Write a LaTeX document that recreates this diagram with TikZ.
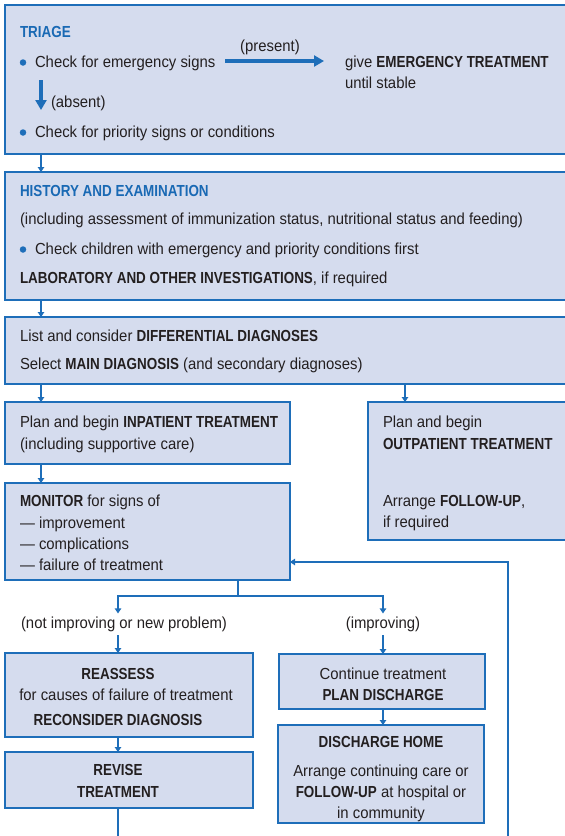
\documentclass[tikz,border=0pt]{standalone}
\usepackage{fontspec}
\setmainfont{Liberation Sans}[FakeStretch=0.93,BoldFeatures={FakeStretch=0.84}]
\usetikzlibrary{arrows.meta}
\definecolor{boxfill}{RGB}{213,220,238}
\definecolor{boxline}{RGB}{30,110,185}
\definecolor{titleblue}{RGB}{25,105,180}
\definecolor{ink}{RGB}{35,31,32}
\tikzset{
 box/.style={draw=boxline, fill=boxfill, line width=1.6pt, anchor=north west, inner sep=0pt, outer sep=0pt},
 txt/.style={anchor=base west, inner sep=0pt, outer sep=0pt, text=ink, font=\fontsize{16}{18}\selectfont},
 ctxt/.style={txt, anchor=base},
 ttl/.style={txt, text=titleblue, font=\fontsize{16}{18}\selectfont\bfseries},
 conn/.style={draw=boxline, line width=1.2pt, -{Triangle[length=5pt,width=6.5pt]}},
 plainline/.style={draw=boxline, line width=1.2pt},
 bigarrow/.style={draw=boxline, line width=3.5pt, -{Triangle[length=10pt,width=11pt]}},
 dot/.style={circle, fill=boxline, inner sep=0pt, minimum size=6.5pt},
}
\begin{document}
\begin{tikzpicture}[x=1pt,y=-1pt]
\useasboundingbox (0,0) rectangle (565,836);
\clip (0,0) rectangle (565,836);
% x positions
\coordinate (xa) at (41,0);
\coordinate (xb) at (405,0);
\coordinate (xl) at (118,0);
\coordinate (xr) at (383,0);
\coordinate (xm) at (238,0);
\coordinate (fy) at (0,562);
% boxes
\node[box, minimum width=600pt, minimum height=149pt] (triage) at (5,5) {};
\node[box, minimum width=600pt, minimum height=128pt] (history) at (5,172) {};
\node[box, minimum width=600pt, minimum height=67pt] (diff) at (5,317) {};
\node[box, minimum width=285pt, minimum height=62pt] (inpat) at (5,402) {};
\node[box, minimum width=240pt, minimum height=138pt] (outpat) at (368,402) {};
\node[box, minimum width=285pt, minimum height=97pt] (monitor) at (5,483) {};
\node[box, minimum width=248pt, minimum height=84pt] (reassess) at (5,653) {};
\node[box, minimum width=248pt, minimum height=56pt] (revise) at (5,752) {};
\node[box, minimum width=206pt, minimum height=55pt] (cont) at (279,654) {};
\node[box, minimum width=206pt, minimum height=98pt] (dhome) at (278,725) {};
% triage texts
\node[ttl] (t1) at (20,37) {TRIAGE};
\node[dot] (b1) at (23,62.5) {};
\node[txt] (t2) at (35,67) {Check for emergency signs};
\node[ctxt] (t3) at (270,51) {(present)};
\node[txt] (t4) at (345,67) {give \textbf{EMERGENCY TREATMENT}};
\node[txt] (t5) at (345,88) {until stable};
\node[txt] (t6) at (51,107) {(absent)};
\node[dot] (b2) at (23,132.5) {};
\node[txt] (t7) at (35,137) {Check for priority signs or conditions};
\coordinate (pa) at (225,61);
\coordinate (pb) at (324,61);
\coordinate (qa) at (41,80);
\coordinate (qb) at (41,110);
\draw[bigarrow] (pa) -- (pb);
\draw[bigarrow] (qa) -- (qb);
% history texts
\node[ttl] (h1) at (20,196) {HISTORY AND EXAMINATION};
\node[txt] (h2) at (20,224) {(including assessment of immunization status, nutritional status and feeding)};
\node[dot] (b3) at (23,249.5) {};
\node[txt] (h3) at (35,254) {Check children with emergency and priority conditions first};
\node[txt] (h4) at (20,283) {\textbf{LABORATORY AND OTHER INVESTIGATIONS}, if required};
% diagnosis
\node[txt] (d1) at (20,341) {List and consider \textbf{DIFFERENTIAL DIAGNOSES}};
\node[txt] (d2) at (20,369) {Select \textbf{MAIN DIAGNOSIS} (and secondary diagnoses)};
% inpatient / outpatient
\node[txt] (i1) at (20,427) {Plan and begin \textbf{INPATIENT TREATMENT}};
\node[txt] (i2) at (20,449) {(including supportive care)};
\node[txt] (o1) at (383,427) {Plan and begin};
\node[txt] (o2) at (383,449) {\textbf{OUTPATIENT TREATMENT}};
\node[txt] (o3) at (383,506) {Arrange \textbf{FOLLOW-UP},};
\node[txt] (o4) at (383,527) {if required};
% monitor
\node[txt] (m1) at (20,506) {\textbf{MONITOR} for signs of};
\node[txt] (m2) at (20,528) {— improvement};
\node[txt] (m3) at (20,549) {— complications};
\node[txt] (m4) at (20,570) {— failure of treatment};
% branch labels
\node[ctxt] (lab1) at (124,628) {(not improving or new problem)};
\node[ctxt] (lab2) at (383,628) {(improving)};
% reassess / revise
\node[ctxt] (r1) at (118,679) {\textbf{REASSESS}};
\node[ctxt] (r2) at (126,700) {for causes of failure of treatment};
\node[ctxt] (r3) at (118,725) {\textbf{RECONSIDER DIAGNOSIS}};
\node[ctxt] (v1) at (118,775) {\textbf{REVISE}};
\node[ctxt] (v2) at (118,797) {\textbf{TREATMENT}};
% continue / discharge
\node[ctxt] (c1) at (383,679) {Continue treatment};
\node[ctxt] (c2) at (383,700) {\textbf{PLAN DISCHARGE}};
\node[ctxt] (e1) at (381,747) {\textbf{DISCHARGE HOME}};
\node[ctxt] (e2) at (381,776) {Arrange continuing care or};
\node[ctxt] (e3) at (381,797) {\textbf{FOLLOW-UP} at hospital or};
\node[ctxt] (e4) at (381,818) {in community};
% connectors
\draw[conn] (triage.south -| xa) -- (history.north -| xa);
\draw[conn] (history.south -| xa) -- (diff.north -| xa);
\draw[conn] (diff.south -| xa) -- (inpat.north -| xa);
\draw[conn] (diff.south -| xb) -- (outpat.north -| xb);
\draw[conn] (inpat.south -| xa) -- (monitor.north -| xa);
\coordinate (split) at (238,596);
\draw[plainline] (monitor.south -| xm) -- (split);
\draw[conn, shorten >=3pt] (split) -| (lab1.north -| xl);
\draw[conn, shorten >=3pt] (split) -| (lab2.north -| xr);
\draw[conn, shorten <=4pt] (lab1.south -| xl) -- (reassess.north -| xl);
\draw[conn, shorten <=4pt] (lab2.south -| xr) -- (cont.north -| xr);
\draw[conn] (reassess.south -| xl) -- (revise.north -| xl);
\draw[conn] (cont.south -| xr) -- (dhome.north -| xr);
\coordinate (bot1) at (118,845);
\draw[plainline] (revise.south -| xl) -- (bot1);
\coordinate (fb) at (508,845);
\draw[conn] (fb) |- (monitor.east |- fy);
\end{tikzpicture}
\end{document}
